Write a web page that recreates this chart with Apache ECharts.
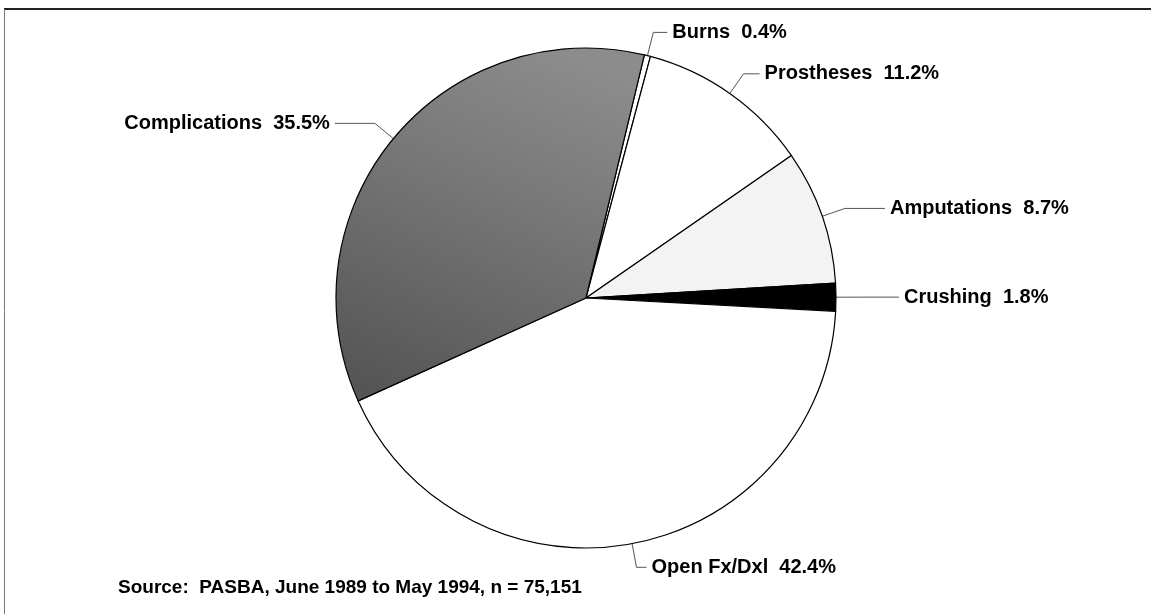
<!DOCTYPE html>
<html>
<head>
<meta charset="utf-8">
<script src="https://cdn.jsdelivr.net/npm/echarts@6/dist/echarts.min.js"></script>
<style>
  html, body { margin: 0; padding: 0; background: #fff; }
  #chart { width: 1151px; height: 614px; }
</style>
</head>
<body>
<div id="chart"></div>
<script>
// slices, clockwise from the top
const categories = ["Burns", "Prostheses", "Amputations", "Crushing", "Open Fx/Dxl", "Complications"];
const percents = [0.4, 11.2, 8.7, 1.8, 42.4, 35.5];
const sourceNote = "Source:  PASBA, June 1989 to May 1994, n = 75,151";

// scanned-print look: greys and black
const fills = {
  "Burns": "#ffffff",
  "Prostheses": "#ffffff",
  "Amputations": "#f3f3f3",
  "Crushing": "#000000",
  "Open Fx/Dxl": "#ffffff",
  "Complications": new echarts.graphic.LinearGradient(0.7, 0, 0.2, 1, [
    { offset: 0, color: "#8c8c8c" },
    { offset: 0.35, color: "#7a7a7a" },
    { offset: 1, color: "#555555" },
  ]),
};
// horizontal part of each leader line
const leader2 = {
  "Burns": 14,
  "Prostheses": 16,
  "Amputations": 40,
  "Crushing": 39,
  "Open Fx/Dxl": 10,
  "Complications": 40,
};

const chart = echarts.init(document.getElementById("chart"), null, { renderer: "canvas" });

chart.setOption({
  backgroundColor: "#fff",
  animation: false,
  graphic: [
    // frame of the figure (top and left edges are visible)
    { type: "line", shape: { x1: 4, y1: 9, x2: 1151, y2: 9 }, style: { stroke: "#222", lineWidth: 2 } },
    { type: "line", shape: { x1: 4.5, y1: 9, x2: 4.5, y2: 614 }, style: { stroke: "#777", lineWidth: 1 } },
    {
      type: "text",
      left: 118,
      top: 578,
      style: {
        text: sourceNote,
        font: "bold 19px 'Liberation Sans', Arial, sans-serif",
        fill: "#000",
      },
    },
  ],
  series: [
    {
      type: "pie",
      center: [586, 298],
      radius: 250,
      startAngle: 76.5,
      clockwise: true,
      avoidLabelOverlap: false,
      itemStyle: { borderColor: "#000", borderWidth: 1.2 },
      label: {
        show: true,
        position: "outside",
        color: "#000",
        fontFamily: "'Liberation Sans', Arial, sans-serif",
        fontWeight: "bold",
        fontSize: 20,
        distanceToLabelLine: 5,
        formatter: (p) => p.name + "  " + p.value.toFixed(1) + "%",
      },
      labelLine: {
        show: true,
        length: 24,
        length2: 34,
        lineStyle: { color: "#555", width: 1 },
      },
      emphasis: { disabled: true },
      data: categories.map((name, i) => ({
        name: name,
        value: percents[i],
        itemStyle: { color: fills[name] },
        labelLine: { length2: leader2[name] },
      })),
    },
  ],
});
</script>
</body>
</html>
